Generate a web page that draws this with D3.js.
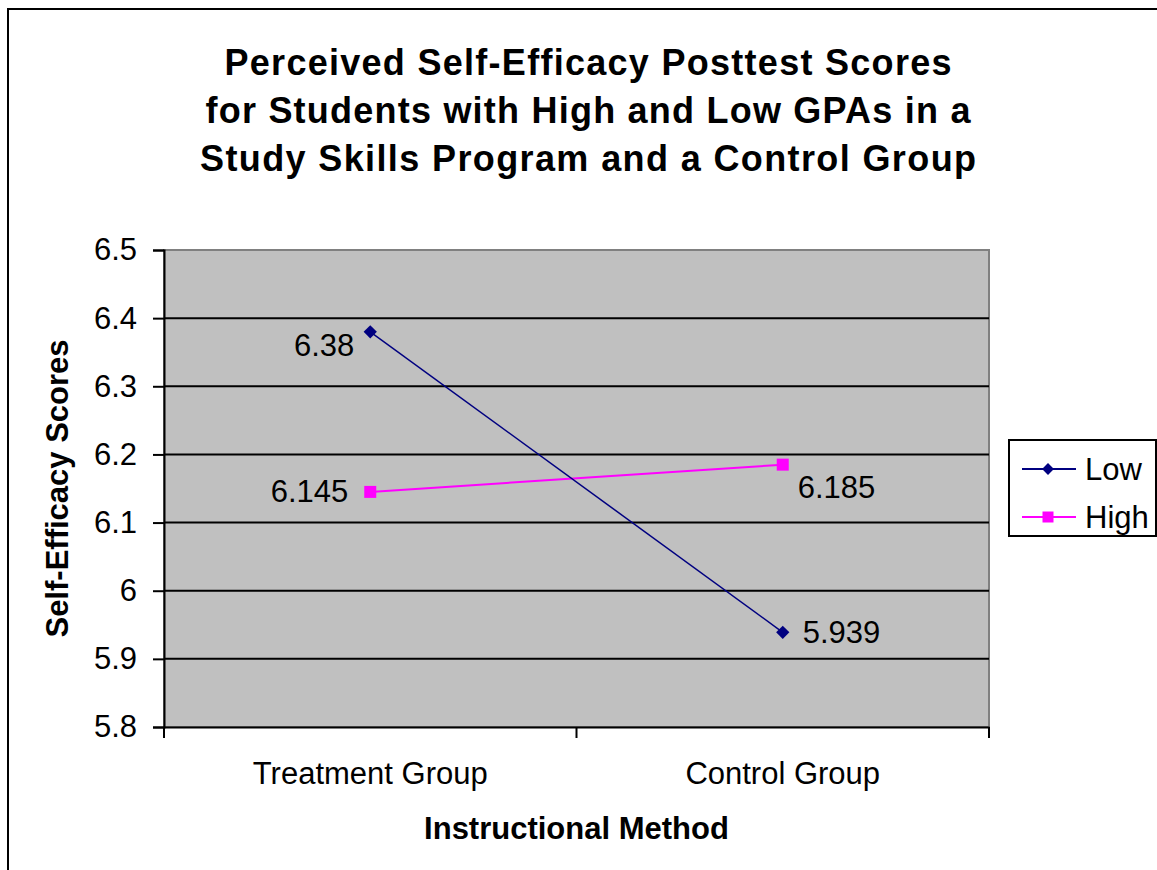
<!DOCTYPE html>
<html>
<head>
<meta charset="utf-8">
<script src="https://cdn.jsdelivr.net/npm/d3@7"></script>
<style>
  body { margin: 0; background: #fff; }
  text { font-family: "Liberation Sans", Arial, sans-serif; fill: #000; }
</style>
</head>
<body>
<div id="chart"></div>
<script>
const groups = ["Treatment Group", "Control Group"];
const lowScores = [6.38, 5.939];
const highScores = [6.145, 6.185];
const yTicks = [5.8, 5.9, 6, 6.1, 6.2, 6.3, 6.4, 6.5];
const titleLines = [
  "Perceived Self-Efficacy Posttest Scores",
  "for Students with High and Low GPAs in a",
  "Study Skills Program and a Control Group"
];

const width = 1157, height = 870;
const plot = { left: 164, right: 989, top: 250, bottom: 727 };
const fontFamily = '"Liberation Sans", Arial, sans-serif';

const svg = d3.select('#chart').append('svg')
  .attr('width', width)
  .attr('height', height);

// chart border (runs off the right and bottom edges)
svg.append('rect')
  .attr('x', 8).attr('y', 9)
  .attr('width', width + 20).attr('height', height + 20)
  .attr('fill', '#fff')
  .attr('stroke', '#000')
  .attr('stroke-width', 2);

const x = d3.scaleBand()
  .domain(groups)
  .range([plot.left, plot.right]);

const y = d3.scaleLinear()
  .domain([5.8, 6.5])
  .range([plot.bottom, plot.top]);

// plot area
svg.append('rect')
  .attr('x', plot.left).attr('y', plot.top)
  .attr('width', plot.right - plot.left)
  .attr('height', plot.bottom - plot.top)
  .attr('fill', '#c0c0c0')
  .attr('stroke', '#808080')
  .attr('stroke-width', 2);

// gridlines
svg.append('g')
  .selectAll('line')
  .data(yTicks.filter(d => d > 5.8 && d < 6.5))
  .join('line')
    .attr('x1', plot.left).attr('x2', plot.right)
    .attr('y1', d => y(d)).attr('y2', d => y(d))
    .attr('stroke', '#000')
    .attr('stroke-width', 2);

// y axis
const yAxis = svg.append('g')
  .attr('transform', `translate(${plot.left},0)`)
  .call(d3.axisLeft(y).tickValues(yTicks).tickSize(11).tickPadding(16).tickFormat(d3.format('')));
yAxis.select('.domain').attr('stroke', '#000').attr('stroke-width', 2);
yAxis.selectAll('.tick line').attr('stroke', '#000').attr('stroke-width', 2);
yAxis.selectAll('.tick text')
  .attr('font-size', 31)
  .attr('font-family', fontFamily)
  .attr('fill', '#000');

// x axis
const xAxis = svg.append('g')
  .attr('transform', `translate(0,${plot.bottom})`)
  .call(d3.axisBottom(x).tickSize(0).tickPadding(35));
xAxis.select('.domain').attr('stroke', '#000').attr('stroke-width', 2);
xAxis.selectAll('.tick text')
  .attr('font-size', 31)
  .attr('font-family', fontFamily)
  .attr('fill', '#000');

// x category separators
svg.append('g')
  .selectAll('line')
  .data([x(groups[0]), x(groups[1]), plot.right])
  .join('line')
    .attr('x1', d => d).attr('x2', d => d)
    .attr('y1', plot.bottom).attr('y2', plot.bottom + 11)
    .attr('stroke', '#000')
    .attr('stroke-width', 2);

const cx = d => x(d) + x.bandwidth() / 2;
const line = d3.line()
  .x((d, i) => cx(groups[i]))
  .y(d => y(d));

// High series
svg.append('path')
  .datum(highScores)
  .attr('d', line)
  .attr('fill', 'none')
  .attr('stroke', '#ff00ff')
  .attr('stroke-width', 2);
svg.append('g')
  .selectAll('rect')
  .data(highScores)
  .join('rect')
    .attr('x', (d, i) => cx(groups[i]) - 6)
    .attr('y', d => y(d) - 6)
    .attr('width', 12).attr('height', 12)
    .attr('fill', '#ff00ff');

// Low series
svg.append('path')
  .datum(lowScores)
  .attr('d', line)
  .attr('fill', 'none')
  .attr('stroke', '#000080')
  .attr('stroke-width', 1.5);
svg.append('g')
  .selectAll('path')
  .data(lowScores)
  .join('path')
    .attr('d', d3.symbol().type(d3.symbolSquare).size(88))
    .attr('transform', (d, i) => `translate(${cx(groups[i])},${y(d)}) rotate(45)`)
    .attr('fill', '#000080');

// data labels
const labelStyle = sel => sel
  .attr('font-size', 31)
  .attr('dominant-baseline', 'central');

svg.append('text').call(labelStyle)
  .attr('x', cx(groups[0]) - 16).attr('y', y(lowScores[0]) + 14)
  .attr('text-anchor', 'end')
  .text(lowScores[0]);
svg.append('text').call(labelStyle)
  .attr('x', cx(groups[1]) + 20).attr('y', y(lowScores[1]))
  .attr('text-anchor', 'start')
  .text(lowScores[1]);
svg.append('text').call(labelStyle)
  .attr('x', cx(groups[0]) - 22).attr('y', y(highScores[0]))
  .attr('text-anchor', 'end')
  .text(highScores[0]);
svg.append('text').call(labelStyle)
  .attr('x', cx(groups[1]) + 15).attr('y', y(highScores[1]) + 23)
  .attr('text-anchor', 'start')
  .text(highScores[1]);

// title, spread to the width of the original lines
const titleWidths = [727, 765, 776];
svg.append('g')
  .selectAll('text')
  .data(titleLines)
  .join('text')
    .attr('x', 588)
    .attr('y', (d, i) => 62 + i * 48)
    .attr('text-anchor', 'middle')
    .attr('dominant-baseline', 'central')
    .attr('font-size', 36)
    .attr('font-weight', 'bold')
    .attr('textLength', (d, i) => titleWidths[i])
    .attr('lengthAdjust', 'spacing')
    .text(d => d);

// axis titles
svg.append('text')
  .attr('transform', `translate(57,${(plot.top + plot.bottom) / 2}) rotate(-90)`)
  .attr('text-anchor', 'middle')
  .attr('dominant-baseline', 'central')
  .attr('font-size', 31)
  .attr('font-weight', 'bold')
  .text('Self-Efficacy Scores');

svg.append('text')
  .attr('x', (plot.left + plot.right) / 2).attr('y', 828)
  .attr('text-anchor', 'middle')
  .attr('dominant-baseline', 'central')
  .attr('font-size', 31)
  .attr('font-weight', 'bold')
  .text('Instructional Method');

// legend
const legend = svg.append('g').attr('transform', 'translate(1009,440)');
legend.append('rect')
  .attr('width', 147).attr('height', 96)
  .attr('fill', '#fff')
  .attr('stroke', '#000')
  .attr('stroke-width', 2);
const legendItems = [
  { name: 'Low', color: '#000080', marker: 'diamond' },
  { name: 'High', color: '#ff00ff', marker: 'square' }
];
const li = legend.selectAll('g.item')
  .data(legendItems)
  .join('g')
    .attr('class', 'item')
    .attr('transform', (d, i) => `translate(0,${29 + i * 48})`);
li.append('line')
  .attr('x1', 13).attr('x2', 67)
  .attr('stroke', d => d.color)
  .attr('stroke-width', 2);
li.append('path')
  .attr('transform', d => `translate(39,0) rotate(${d.marker === 'diamond' ? 45 : 0})`)
  .attr('d', d => d3.symbol().type(d3.symbolSquare).size(d.marker === 'diamond' ? 70 : 121)())
  .attr('fill', d => d.color);
li.append('text')
  .attr('x', 76)
  .attr('dominant-baseline', 'central')
  .attr('font-size', 31)
  .text(d => d.name);
</script>
</body>
</html>
